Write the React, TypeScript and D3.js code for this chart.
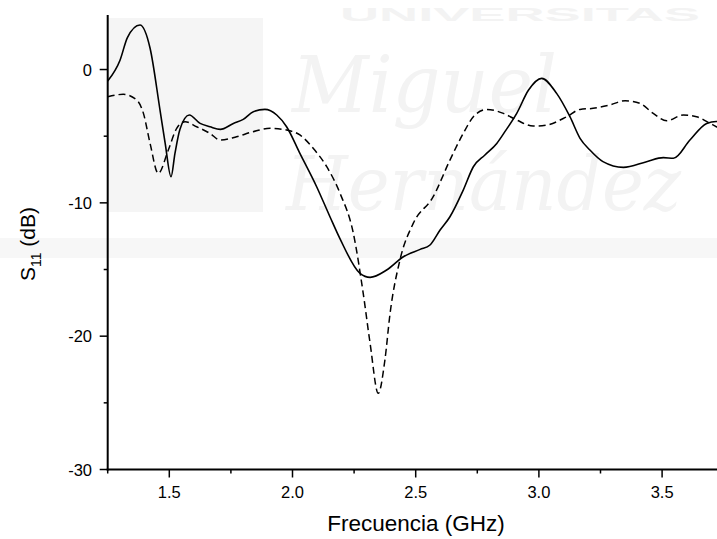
import React from "react";
import * as d3 from "d3";

const solidF = [1.25, 1.30, 1.33, 1.381, 1.422, 1.462, 1.483, 1.507, 1.523, 1.543, 1.581, 1.625, 1.665, 1.707, 1.76, 1.80, 1.841, 1.888, 1.936, 1.976, 2.03, 2.098, 2.152, 2.193, 2.274, 2.315, 2.382, 2.45, 2.518, 2.558, 2.599, 2.639, 2.693, 2.734, 2.781, 2.829, 2.862, 2.91, 2.958, 3.011, 3.072, 3.126, 3.167, 3.207, 3.26, 3.343, 3.437, 3.505, 3.546, 3.613, 3.681, 3.72, 3.75];
const solidDb = [-0.86, 0.7, 2.4, 3.34, 1.6, -3.0, -5.5, -8.04, -6.29, -4.5, -3.41, -4.04, -4.29, -4.49, -4.04, -3.74, -3.16, -2.99, -3.41, -4.29, -6.29, -8.79, -11.04, -12.7, -15.29, -15.59, -15.04, -14.04, -13.49, -13.16, -12.04, -11.04, -9.04, -7.29, -6.41, -5.54, -4.66, -3.29, -1.54, -0.66, -1.79, -3.54, -5.16, -6.04, -6.91, -7.34, -6.91, -6.61, -6.66, -5.29, -4.04, -3.9, -4.0];

const dashF = [1.25, 1.313, 1.368, 1.395, 1.422, 1.455, 1.496, 1.53, 1.564, 1.611, 1.665, 1.706, 1.773, 1.84, 1.909, 1.976, 2.03, 2.084, 2.139, 2.193, 2.247, 2.287, 2.315, 2.348, 2.375, 2.396, 2.436, 2.49, 2.571, 2.639, 2.693, 2.734, 2.788, 2.856, 2.91, 2.977, 3.032, 3.113, 3.167, 3.22, 3.287, 3.35, 3.41, 3.464, 3.519, 3.586, 3.64, 3.695, 3.72, 3.75];
const dashDb = [-2.04, -1.86, -2.29, -3.29, -5.54, -7.79, -6.04, -4.41, -3.91, -4.29, -4.79, -5.29, -5.04, -4.66, -4.41, -4.54, -4.91, -5.91, -7.29, -9.29, -12.29, -16.79, -20.54, -24.29, -21.79, -18.29, -14.29, -11.54, -9.54, -6.79, -4.79, -3.54, -2.99, -3.29, -3.79, -4.24, -4.16, -3.54, -2.99, -2.91, -2.66, -2.34, -2.54, -3.29, -3.84, -3.41, -3.54, -4.04, -4.29, -4.5];

const xMajor = [1.5, 2.0, 2.5, 3.0, 3.5];
const xMinor = [1.25, 1.75, 2.25, 2.75, 3.25, 3.75];
const yMajor = [-30, -20, -10, 0];
const yMinor = [-25, -15, -5];

const W = 717;
const H = 539;

export default function App() {
  const x = d3.scaleLinear().domain([1.25, 3.75]).range([107.7, 723.7]);
  const y = d3.scaleLinear().domain([-30, 4.09]).range([469.5, 15]);
  const line = d3
    .line<[number, number]>()
    .x((d) => x(d[0]))
    .y((d) => y(d[1]))
    .curve(d3.curveMonotoneX);
  const solid = line(solidF.map((f, i) => [f, solidDb[i]]) as [number, number][]) || "";
  const dashed = line(dashF.map((f, i) => [f, dashDb[i]]) as [number, number][]) || "";
  const font = "Liberation Sans, Arial, sans-serif";
  const x0 = x(1.25);
  const yb = y(-30);
  return (
    <svg
      width={W}
      height={H}
      style={{ position: "absolute", left: 0, top: 0, background: "#fff" }}
      fontFamily={font}
    >
      <rect x={0} y={0} width={W} height={H} fill="#fff" />
      {/* faint watermark */}
      <g>
        <rect x={108} y={18} width={155} height={194} fill="#f5f5f5" />
        <rect x={0} y={238} width={W} height={20} fill="#f7f7f7" />
        <text x={340} y={21} fontSize={19} fontWeight="bold" fill="#f3f3f3" textLength={360} lengthAdjust="spacingAndGlyphs" fontFamily={font}>
          UNIVERSITAS
        </text>
        <text x={292} y={112} fontSize={78} fontStyle="italic" fill="#f3f3f3" textLength={265} lengthAdjust="spacingAndGlyphs" fontFamily="DejaVu Serif, serif">
          Miguel
        </text>
        <text x={286} y={210} fontSize={74} fontStyle="italic" fill="#f3f3f3" textLength={395} lengthAdjust="spacingAndGlyphs" fontFamily="DejaVu Serif, serif">
          Hernández
        </text>
      </g>
      {/* curves */}
      <path d={dashed} fill="none" stroke="#000" strokeWidth={1.5} strokeDasharray="7,4" />
      <path d={solid} fill="none" stroke="#000" strokeWidth={1.6} />
      {/* axes */}
      <line x1={x0} x2={x0} y1={15} y2={yb + 1} stroke="#000" strokeWidth={2} />
      <line x1={x0 - 1} x2={W + 10} y1={yb} y2={yb} stroke="#000" strokeWidth={2} />
      {xMajor.map((v) => (
        <g key={"xm" + v}>
          <line x1={x(v)} x2={x(v)} y1={yb} y2={yb + 8} stroke="#000" strokeWidth={1.5} />
          <text x={x(v)} y={498} fontSize={16.5} textAnchor="middle" fill="#000">
            {v.toFixed(1)}
          </text>
        </g>
      ))}
      {xMinor.map((v) => (
        <line key={"xn" + v} x1={x(v)} x2={x(v)} y1={yb} y2={yb + 4} stroke="#000" strokeWidth={1.5} />
      ))}
      {yMajor.map((v) => (
        <g key={"ym" + v}>
          <line x1={x0 - 8} x2={x0} y1={y(v)} y2={y(v)} stroke="#000" strokeWidth={1.5} />
          <text x={92} y={y(v) + 6} fontSize={16.5} textAnchor="end" fill="#000">
            {v}
          </text>
        </g>
      ))}
      {yMinor.map((v) => (
        <line key={"yn" + v} x1={x0 - 4} x2={x0} y1={y(v)} y2={y(v)} stroke="#000" strokeWidth={1.5} />
      ))}
      <text x={416} y={531} fontSize={22.5} textAnchor="middle" fill="#000">
        Frecuencia (GHz)
      </text>
      <text transform="translate(35,244) rotate(-90)" fontSize={21} textAnchor="middle" fill="#000">
        S<tspan fontSize={14} dy={6}>11</tspan>
        <tspan dy={-6}> (dB)</tspan>
      </text>
    </svg>
  );
}
